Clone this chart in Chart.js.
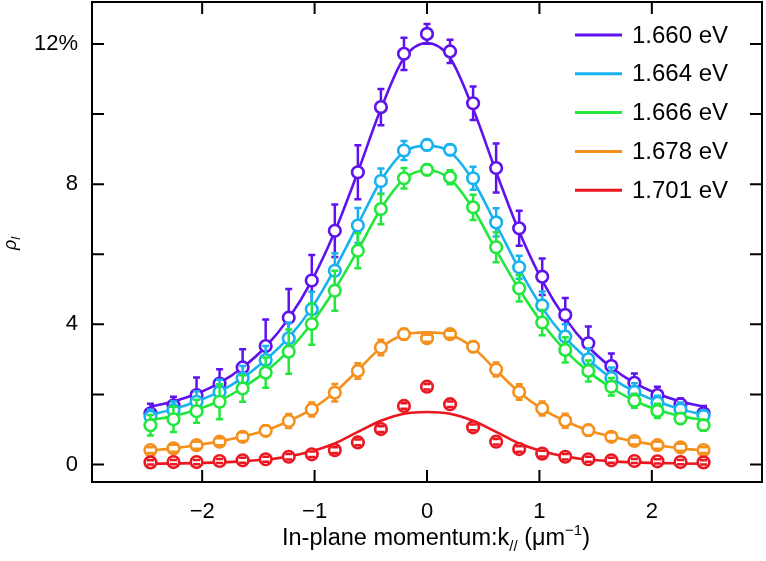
<!DOCTYPE html>
<html>
<head>
<meta charset="utf-8">
<script src="https://cdn.jsdelivr.net/npm/chart.js@4"></script>
<style>
  body { margin: 0; background: #fff; }
  #c { display: block; }
</style>
</head>
<body>
<canvas id="c" width="766" height="561"></canvas>
<script>
// momentum positions of the measured points
var xVals = [-2.46, -2.255, -2.05, -1.845, -1.64, -1.435, -1.23, -1.025, -0.82, -0.615, -0.41, -0.205, 0,
             0.205, 0.41, 0.615, 0.82, 1.025, 1.23, 1.435, 1.64, 1.845, 2.05, 2.255, 2.46];

var seriesLabels = ['1.660 eV', '1.664 eV', '1.666 eV', '1.678 eV', '1.701 eV'];
var seriesColors = ['#5f12ee', '#18b2f0', '#22e83c', '#f5901c', '#ec1620'];

// measured points
var pts1660 = [1.46, 1.69, 1.98, 2.31, 2.77, 3.38, 4.19, 5.25, 6.67, 8.34, 10.2, 11.72, 12.29, 11.79, 10.31, 8.46, 6.74, 5.36, 4.27, 3.46, 2.81, 2.33, 1.98, 1.72, 1.46];
var pts1664 = [1.36, 1.55, 1.79, 2.07, 2.46, 2.98, 3.6, 4.43, 5.53, 6.82, 8.09, 8.96, 9.12, 8.98, 8.17, 6.91, 5.63, 4.54, 3.65, 3.0, 2.47, 2.07, 1.76, 1.57, 1.39];
var pts1666 = [1.12, 1.29, 1.52, 1.79, 2.17, 2.62, 3.22, 4.01, 4.96, 6.1, 7.29, 8.17, 8.41, 8.2, 7.34, 6.2, 5.03, 4.05, 3.27, 2.67, 2.22, 1.82, 1.53, 1.31, 1.12];
var pts1678 = [0.41, 0.46, 0.55, 0.65, 0.79, 0.96, 1.24, 1.57, 2.05, 2.67, 3.34, 3.72, 3.6, 3.72, 3.36, 2.71, 2.07, 1.6, 1.25, 0.98, 0.79, 0.67, 0.55, 0.49, 0.41];
var pts1701 = [0.06, 0.07, 0.07, 0.1, 0.12, 0.15, 0.22, 0.29, 0.41, 0.63, 1.01, 1.67, 2.22, 1.72, 1.06, 0.65, 0.44, 0.31, 0.22, 0.15, 0.12, 0.1, 0.09, 0.07, 0.06];

// error bars (half height)
var err1660 = [0.27, 0.24, 0.5, 0.41, 0.52, 0.76, 0.82, 0.73, 0.75, 0.77, 0.52, 0.46, 0.28, 0.33, 0.48, 0.7, 0.5, 0.52, 0.48, 0.48, 0.36, 0.27, 0.24, 0.16, 0.21];
var err1664 = [0.2, 0.25, 0.3, 0.35, 0.35, 0.4, 0.45, 0.5, 0.5, 0.5, 0.36, 0.27, 0.15, 0.15, 0.33, 0.4, 0.33, 0.4, 0.35, 0.3, 0.3, 0.25, 0.2, 0.2, 0.15];
var err1666 = [0.29, 0.36, 0.33, 0.5, 0.38, 0.43, 0.63, 0.59, 0.57, 0.5, 0.43, 0.29, 0.15, 0.2, 0.36, 0.43, 0.38, 0.36, 0.36, 0.3, 0.25, 0.2, 0.2, 0.15, 0.15];
var err1678 = [0.08, 0.1, 0.1, 0.1, 0.12, 0.15, 0.2, 0.2, 0.25, 0.22, 0.22, 0.15, 0.1, 0.1, 0.15, 0.2, 0.22, 0.2, 0.2, 0.15, 0.12, 0.1, 0.1, 0.1, 0.08];
var err1701 = [0.06, 0.06, 0.06, 0.06, 0.07, 0.07, 0.08, 0.08, 0.08, 0.08, 0.08, 0.08, 0.08, 0.08, 0.08, 0.08, 0.08, 0.08, 0.08, 0.07, 0.07, 0.06, 0.06, 0.06, 0.06];

// fitted curves
var fit1660 = [1.65, 1.8, 2.02, 2.33, 2.77, 3.36, 4.17, 5.25, 6.65, 8.35, 10.15, 11.6, 12.03, 11.6, 10.15, 8.35, 6.65, 5.25, 4.17, 3.36, 2.77, 2.33, 2.02, 1.8, 1.65];
var fit1664 = [1.42, 1.58, 1.8, 2.08, 2.47, 2.99, 3.62, 4.47, 5.58, 6.85, 8.1, 8.92, 9.1, 8.92, 8.1, 6.85, 5.58, 4.47, 3.62, 2.99, 2.47, 2.08, 1.8, 1.58, 1.42];
var fit1666 = [1.27, 1.38, 1.56, 1.82, 2.19, 2.65, 3.25, 4.03, 5.0, 6.12, 7.3, 8.15, 8.4, 8.15, 7.3, 6.12, 5.0, 4.03, 3.25, 2.65, 2.19, 1.82, 1.56, 1.38, 1.27];
var fit1678 = [0.4, 0.46, 0.55, 0.66, 0.8, 0.97, 1.24, 1.58, 2.06, 2.69, 3.33, 3.7, 3.77, 3.7, 3.33, 2.69, 2.06, 1.58, 1.24, 0.97, 0.8, 0.66, 0.55, 0.46, 0.4];
var fit1701 = [0.02, 0.03, 0.04, 0.06, 0.09, 0.14, 0.23, 0.38, 0.6, 0.93, 1.25, 1.45, 1.5, 1.45, 1.25, 0.93, 0.6, 0.38, 0.23, 0.14, 0.09, 0.06, 0.04, 0.03, 0.02];

var xTickVals = [-2, -1, 0, 1, 2];
var yTickVals = [0, 4, 8, 12];
var yMinorVals = [0, 2, 4, 6, 8, 10, 12];

var allPts = [pts1660, pts1664, pts1666, pts1678, pts1701];
var allErr = [err1660, err1664, err1666, err1678, err1701];
var allFit = [fit1660, fit1664, fit1666, fit1678, fit1701];

function toXY(ys) {
  return ys.map(function (y, i) { return { x: xVals[i], y: y }; });
}

var datasets = [];
for (var s = 0; s < 5; s++) {
  datasets.push({
    label: seriesLabels[s],
    data: toXY(allFit[s]),
    showLine: true,
    borderColor: seriesColors[s],
    borderWidth: 2.6,
    pointRadius: 0,
    cubicInterpolationMode: 'monotone',
    order: 20 - s * 2
  });
  datasets.push({
    label: seriesLabels[s] + ' data',
    data: toXY(allPts[s]),
    showLine: false,
    borderColor: seriesColors[s],
    backgroundColor: '#fff',
    borderWidth: 2.6,
    pointRadius: 5.8,
    errors: allErr[s],
    order: 19 - s * 2
  });
}

var FONT = "'Liberation Sans', Arial, Helvetica, sans-serif";

var extras = {
  id: 'extras',
  afterDatasetDraw: function (chart, args) {
    var ds = chart.data.datasets[args.index];
    if (!ds.errors) return;
    var ctx = chart.ctx, ys = chart.scales.y;
    var r = ds.pointRadius;
    ctx.save();
    ctx.strokeStyle = ds.borderColor;
    ctx.lineWidth = 2.5;
    args.meta.data.forEach(function (pt, i) {
      var v = ds.data[i].y, e = ds.errors[i];
      var top = ys.getPixelForValue(v + e), bot = ys.getPixelForValue(v - e);
      ctx.beginPath();
      if (pt.y - top > r) { ctx.moveTo(pt.x, pt.y - r); ctx.lineTo(pt.x, top); }
      if (bot - pt.y > r) { ctx.moveTo(pt.x, pt.y + r); ctx.lineTo(pt.x, bot); }
      ctx.moveTo(pt.x - 3.5, top); ctx.lineTo(pt.x + 3.5, top);
      ctx.moveTo(pt.x - 3.5, bot); ctx.lineTo(pt.x + 3.5, bot);
      ctx.stroke();
    });
    ctx.restore();
  },
  afterDraw: function (chart) {
    var ctx = chart.ctx, a = chart.chartArea;
    var xs = chart.scales.x, ys = chart.scales.y;
    ctx.save();
    // frame + inward ticks
    ctx.strokeStyle = '#000';
    ctx.lineWidth = 2;
    ctx.strokeRect(a.left, a.top, a.right - a.left, a.bottom - a.top);
    ctx.beginPath();
    xTickVals.forEach(function (v) {
      var px = xs.getPixelForValue(v);
      ctx.moveTo(px, a.bottom); ctx.lineTo(px, a.bottom - 12);
      ctx.moveTo(px, a.top); ctx.lineTo(px, a.top + 12);
    });
    yMinorVals.forEach(function (v) {
      var py = ys.getPixelForValue(v);
      ctx.moveTo(a.left, py); ctx.lineTo(a.left + 12, py);
      ctx.moveTo(a.right, py); ctx.lineTo(a.right - 12, py);
    });
    ctx.stroke();

    // legend
    ctx.textBaseline = 'middle';
    ctx.textAlign = 'left';
    ctx.font = '24px ' + FONT;
    seriesLabels.forEach(function (lab, i) {
      var y = 35 + i * 38.8;
      ctx.strokeStyle = seriesColors[i];
      ctx.lineWidth = 3;
      ctx.beginPath(); ctx.moveTo(575, y); ctx.lineTo(622, y); ctx.stroke();
      ctx.fillStyle = '#000';
      ctx.fillText(lab, 632, y + 1);
    });

    // x axis title with sub/superscript
    var big = '23.5px ' + FONT, small = '15px ' + FONT;
    var parts = [
      { t: 'In-plane momentum:k', f: big, dy: 0 },
      { t: '//', f: small, dy: 6 },
      { t: ' (\u03bcm', f: big, dy: 0 },
      { t: '\u22121', f: small, dy: -10 },
      { t: ')', f: big, dy: 0 }
    ];
    var w = 0;
    parts.forEach(function (p) { ctx.font = p.f; p.w = ctx.measureText(p.t).width; w += p.w; });
    var x = 436 - w / 2, by = 545;
    ctx.textBaseline = 'alphabetic';
    ctx.fillStyle = '#000';
    parts.forEach(function (p) { ctx.font = p.f; ctx.fillText(p.t, x, by + p.dy); x += p.w; });

    // y axis title
    ctx.translate(16, 243);
    ctx.rotate(-Math.PI / 2);
    ctx.font = 'italic 18px ' + FONT;
    ctx.fillText('\u03c1', -7, 0);
    var rw = ctx.measureText('\u03c1').width;
    ctx.font = 'italic 13px ' + FONT;
    ctx.fillText('l', -7 + rw, 4);
    ctx.restore();
  }
};

new Chart(document.getElementById('c'), {
  type: 'scatter',
  data: { datasets: datasets },
  options: {
    responsive: false,
    animation: false,
    devicePixelRatio: 1,
    layout: { autoPadding: false, padding: { top: 2, right: 4, left: 0, bottom: 0 } },
    plugins: { legend: { display: false }, tooltip: { enabled: false } },
    scales: {
      x: {
        type: 'linear', min: -2.98, max: 2.98,
        grid: { display: false, drawTicks: false },
        border: { display: false },
        afterBuildTicks: function (s) { s.ticks = xTickVals.map(function (v) { return { value: v }; }); },
        afterFit: function (s) { s.height = 79; s.paddingLeft = 0; s.paddingRight = 0; },
        ticks: {
          color: '#000', padding: 17, maxRotation: 0,
          font: { size: 22, family: FONT },
          callback: function (v) { return v < 0 ? '\u2212' + Math.abs(v) : String(v); }
        }
      },
      y: {
        type: 'linear', min: -0.5, max: 13.2,
        grid: { display: false, drawTicks: false },
        border: { display: false },
        afterBuildTicks: function (s) { s.ticks = yTickVals.map(function (v) { return { value: v }; }); },
        afterFit: function (s) { s.width = 92; s.paddingTop = 0; s.paddingBottom = 0; },
        ticks: {
          color: '#000', padding: 14,
          font: { size: 22, family: FONT },
          callback: function (v) { return v === 12 ? '12%' : String(v); }
        }
      }
    }
  },
  plugins: [extras]
});
</script>
</body>
</html>
